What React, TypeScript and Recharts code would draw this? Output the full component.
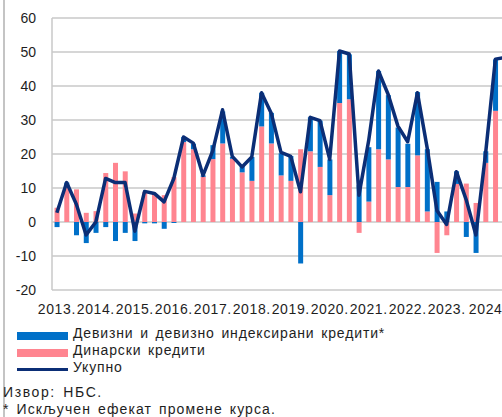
import React from 'react';
import { ComposedChart, Bar, Line, XAxis, YAxis, CartesianGrid } from 'recharts';

const years = [2013, 2014, 2015, 2016, 2017, 2018, 2019, 2020, 2021, 2022, 2023, 2024];

// динарски кредити (pink)
const dinarLoans = [
  4.2, 10.4, 9.6, 2.7, 3.2, 14.4, 17.4, 14.9, 2.5, 8.8, 8.5, 7.9,
  13.2, 23.5, 21.4, 13.3, 18.5, 23.1, 18.6, 14.6, 12.1, 28.1, 23.1, 13.7,
  12.1, 21.4, 20.8, 16.2, 7.9, 35.0, 36.1, -3.2, 6.0, 21.4, 18.4, 10.3,
  10.3, 19.6, 3.1, -9.1, -3.9, 11.2, 11.3, 5.6, 17.4, 32.7, 32.7,
];

// девизни и девизно индексирани (blue)
const fxLoans = [
  -1.5, 1.2, -3.9, -6.2, -3.2, -1.5, -5.6, -3.2, -5.6, -0.4, -0.4, -2.0,
  -0.3, 1.5, 1.6, 0.4, 4.1, 9.4, 0.5, 1.8, 7.0, 9.9, 9.0, 6.5,
  7.3, -12.2, 10.0, 13.6, 10.5, 15.3, 13.2, 10.8, 16.0, 23.0, 18.9, 17.5,
  12.7, 18.6, 18.3, 11.8, 3.1, 3.7, -4.4, -9.1, 3.4, 15.1, 15.8,
];

// укупно (line)
const totalLoans = [
  2.7, 11.6, 5.2, -3.8, 0.0, 12.8, 11.6, 11.6, -2.7, 9.0, 8.4, 5.9,
  12.8, 25.0, 23.2, 13.7, 21.0, 33.0, 19.3, 16.2, 19.1, 38.0, 32.0, 20.5,
  19.3, 8.9, 30.8, 29.8, 18.4, 50.3, 49.4, 7.9, 24.0, 44.4, 37.5, 28.2,
  23.6, 38.0, 21.8, 3.4, -0.7, 14.8, 6.6, -3.8, 20.3, 47.9, 48.4,
];

const yTicks = [-20, -10, 0, 10, 20, 30, 40, 50, 60];

const BLUE = '#0070c8';
const PINK = '#ff8590';
const NAVY = '#0b2e76';
const GRID = '#c8c8c8';
const TEXT = '#1e1e1e';
const FONT = '"Liberation Sans", Arial, sans-serif';

const data = dinarLoans.map((d, i) => ({
  q: `${years[Math.floor(i / 4)]}Q${(i % 4) + 1}`,
  pos: i,
  dinar: d,
  fx: fxLoans[i],
  total: totalLoans[i],
}));

const yearBounds = years.map((_, i) => i * 4);
const lastYear = String(years[years.length - 1]);

const legendItems = [
  { label: 'Девизни и девизно индексирани кредити*', color: BLUE, top: 332, h: 7.5 },
  { label: 'Динарски кредити', color: PINK, top: 348.5, h: 8 },
  { label: 'Укупно', color: NAVY, top: 368, h: 3 },
];

const textStyle: React.CSSProperties = {
  position: 'absolute',
  fontFamily: FONT,
  fontSize: 14,
  lineHeight: '16px',
  color: TEXT,
  whiteSpace: 'nowrap',
  wordSpacing: 2,
  letterSpacing: 0.85,
};

export default function App() {
  return (
    <div
      style={{
        position: 'fixed',
        left: 0,
        top: 0,
        width: 502,
        height: 417,
        overflow: 'hidden',
        background: '#fff',
        fontFamily: FONT,
      }}
    >
      <div style={{ position: 'absolute', left: 3, top: 0, width: 2, height: 417, background: '#c4c4c4' }} />
      <ComposedChart
        width={520}
        height={321}
        data={data}
        stackOffset="sign"
        barCategoryGap="26%"
        margin={{ top: 18, right: 10, left: 8, bottom: 0 }}
        style={{ position: 'absolute', left: 0, top: 0 }}
      >
        <CartesianGrid vertical={false} stroke={GRID} strokeWidth={1.5} />
        <XAxis
          xAxisId="yr"
          type="number"
          dataKey="pos"
          domain={[0, 47]}
          ticks={yearBounds}
          tick={false}
          tickSize={4}
          tickLine={{ stroke: GRID, strokeWidth: 1.5 }}
          axisLine={false}
          height={1}
        />
        <XAxis
          xAxisId="q"
          dataKey="q"
          interval={0}
          tickLine={false}
          axisLine={false}
          tickSize={0}
          tickMargin={14}
          height={30}
          tick={{ fontSize: 14, fill: TEXT, fontFamily: FONT, letterSpacing: 0.6 }}
          tickFormatter={(v: string) => {
            if (!v.endsWith('Q1')) return '';
            const y = v.slice(0, 4);
            return y === lastYear ? y : `${y}.`;
          }}
        />
        <YAxis
          domain={[-20, 60]}
          ticks={yTicks}
          width={44}
          tickLine={false}
          tickSize={0}
          tickMargin={16}
          axisLine={{ stroke: GRID, strokeWidth: 1.5 }}
          tick={{ fontSize: 14, fill: TEXT, fontFamily: FONT }}
        />
        <Bar xAxisId="q" dataKey="dinar" stackId="s" fill={PINK} isAnimationActive={false} />
        <Bar xAxisId="q" dataKey="fx" stackId="s" fill={BLUE} isAnimationActive={false} />
        <Line
          xAxisId="q"
          dataKey="total"
          type="linear"
          stroke={NAVY}
          strokeWidth={3.5}
          strokeLinejoin="round"
          dot={false}
          isAnimationActive={false}
        />
      </ComposedChart>
      {legendItems.map((it) => (
        <React.Fragment key={it.label}>
          <div style={{ position: 'absolute', left: 17, top: it.top, width: 51, height: it.h, background: it.color }} />
          <div style={{ ...textStyle, left: 73, top: it.top + it.h / 2 - 10.5 }}>{it.label}</div>
        </React.Fragment>
      ))}
      <div style={{ ...textStyle, left: 3, top: 384, letterSpacing: 1.6 }}>Извор: НБС.</div>
      <div style={{ ...textStyle, left: 3, top: 401, letterSpacing: 1.1 }}>* Искључен ефекат промене курса.</div>
    </div>
  );
}
